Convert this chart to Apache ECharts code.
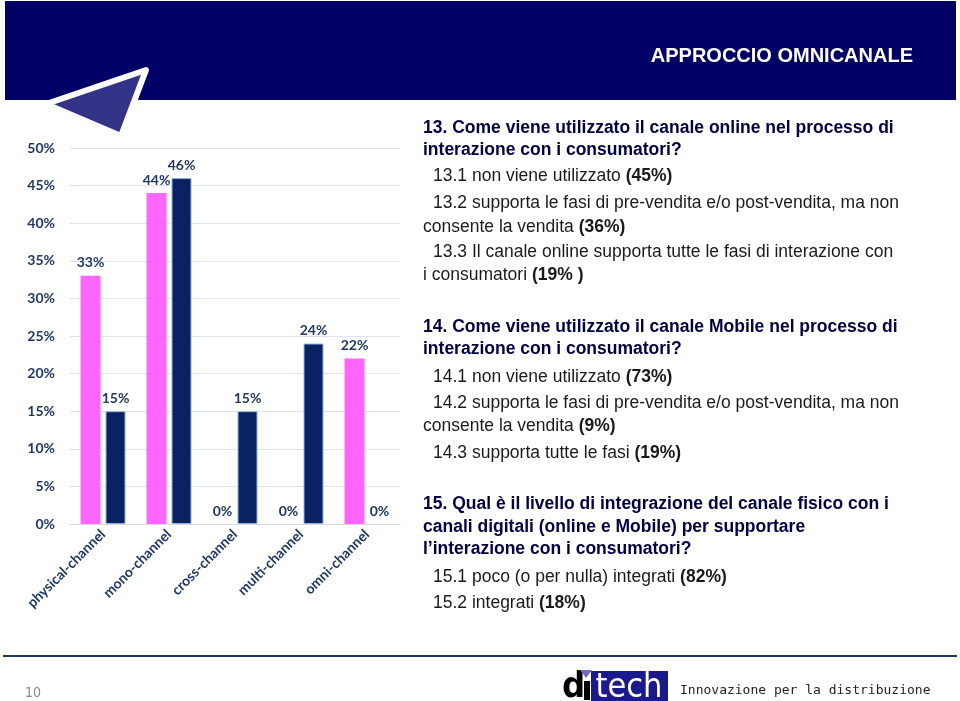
<!DOCTYPE html>
<html>
<head>
<meta charset="utf-8">
<script src="https://cdn.jsdelivr.net/npm/echarts@6/dist/echarts.min.js"></script>
<style>
  html, body { margin: 0; padding: 0; background: #fff; }
  #chart { width: 960px; height: 701px; }
</style>
</head>
<body>
<div id="chart"></div>
<script>
// dati del grafico
var categories = ['physical-channel', 'mono-channel', 'cross-channel', 'multi-channel', 'omni-channel'];
var pinkValues = [33, 44, 0, 0, 22];
var navyValues = [15, 46, 15, 24, 0];
var yTicks = [0, 5, 10, 15, 20, 25, 30, 35, 40, 45, 50];

// testo a destra: [y, rientro, testo, domanda?]
var textLines = [
  [128, 0, '13. Come viene utilizzato il canale online nel processo di', true],
  [150, 0, 'interazione con i consumatori?', true],
  [176, 10, '13.1 non viene utilizzato {b|(45%)}', false],
  [203, 10, '13.2 supporta le fasi di pre-vendita e/o post-vendita, ma non', false],
  [227, 0, 'consente la vendita {b|(36%)}', false],
  [252, 10, '13.3 Il canale online supporta tutte le fasi di interazione con', false],
  [275, 0, 'i consumatori {b|(19% )}', false],
  [327, 0, '14. Come viene utilizzato il canale Mobile nel processo di', true],
  [349, 0, 'interazione con i consumatori?', true],
  [377, 10, '14.1 non viene utilizzato {b|(73%)}', false],
  [403, 10, '14.2 supporta le fasi di pre-vendita e/o post-vendita, ma non', false],
  [426, 0, 'consente la vendita {b|(9%)}', false],
  [453, 10, '14.3 supporta tutte le fasi {b|(19%)}', false],
  [504, 0, '15. Qual è il livello di integrazione del canale fisico con i', true],
  [527, 0, 'canali digitali (online e Mobile) per supportare', true],
  [549, 0, 'l\u2019interazione con i consumatori?', true],
  [577, 10, '15.1 poco (o per nulla) integrati {b|(82%)}', false],
  [603, 10, '15.2 integrati {b|(18%)}', false]
];

var chart = echarts.init(document.getElementById('chart'));

var labelColor = '#1F3864';
var lbl = {
  show: true,
  position: 'top',
  distance: 6,
  color: labelColor,
  fontFamily: 'Lato',
  fontWeight: 'bold',
  fontSize: 14,
  formatter: '{c}%'
};

var graphics = [
  // banda del titolo
  { type: 'rect', shape: { x: 5, y: 1, width: 951, height: 99 }, style: { fill: '#000066' }, z: 1 },
  { type: 'text', x: 913, y: 56, style: { text: 'APPROCCIO OMNICANALE', fill: '#fff', font: 'bold 20px "Liberation Sans", Arial', textAlign: 'right', textVerticalAlign: 'middle' }, z: 2 },
  // freccia
  { type: 'polygon', shape: { points: [[46, 104], [146, 70], [121, 136]] }, style: { fill: '#333388', stroke: '#fff', lineWidth: 6, lineJoin: 'round' }, z: 3 },
  // linea in basso
  { type: 'line', shape: { x1: 3, y1: 656, x2: 957, y2: 656 }, style: { stroke: '#1F3864', lineWidth: 2 } },
  { type: 'text', x: 33, y: 693, style: { text: '10', fill: '#888', font: '14px "DejaVu Sans Condensed", sans-serif', textAlign: 'center', textVerticalAlign: 'middle' } },
  // logo
  { type: 'text', x: 562, y: 688, style: { text: 'd', fill: '#000', font: 'bold 36px "DejaVu Sans Condensed", sans-serif', textVerticalAlign: 'middle' } },
  { type: 'rect', shape: { x: 584, y: 681, width: 6, height: 19 }, style: { fill: '#000' } },
  { type: 'polygon', shape: { points: [[580, 670], [592, 670], [586, 678]] }, style: { fill: '#7766bb' } },
  { type: 'rect', shape: { x: 591, y: 671, width: 77, height: 30 }, style: { fill: '#1a1a8c' } },
  { type: 'text', x: 629, y: 688, style: { text: 'tech', fill: '#fff', font: '34px "DejaVu Sans Condensed", sans-serif', textAlign: 'center', textVerticalAlign: 'middle' } },
  { type: 'text', x: 680, y: 691, style: { text: 'Innovazione per la distribuzione', fill: '#222', font: '13px "DejaVu Sans Mono", monospace', textVerticalAlign: 'middle' } }
];

textLines.forEach(function (l) {
  graphics.push({
    type: 'text',
    x: 423 + l[1],
    y: l[0],
    style: {
      text: l[2],
      fill: l[3] ? '#000044' : '#1a1a1a',
      font: (l[3] ? 'bold ' : '') + '17.5px "Liberation Sans", Arial',
      textVerticalAlign: 'middle',
      rich: {
        b: { fontWeight: 'bold', fontSize: 17.5, fontFamily: 'Liberation Sans', fill: '#1a1a1a' }
      }
    }
  });
});

var option = {
  animation: false,
  grid: { left: 70, right: 560, top: 148, bottom: 177 },
  xAxis: {
    type: 'category',
    data: categories,
    axisLine: { lineStyle: { color: '#D9D9D9' } },
    axisTick: { show: false },
    axisLabel: {
      rotate: 45,
      interval: 0,
      margin: 8,
      color: labelColor,
      fontFamily: 'Lato',
      fontWeight: 'bold',
      fontSize: 14
    }
  },
  yAxis: {
    type: 'value',
    min: yTicks[0],
    max: yTicks[yTicks.length - 1],
    interval: 5,
    axisLabel: {
      formatter: '{value}%',
      color: labelColor,
      fontFamily: 'Lato',
      fontWeight: 'bold',
      fontSize: 14,
      margin: 15
    },
    splitLine: { lineStyle: { color: '#DCE3EE' } }
  },
  series: [
    {
      type: 'bar',
      data: pinkValues,
      barWidth: 20,
      barGap: '25%',
      itemStyle: { color: '#FF66FF' },
      label: lbl
    },
    {
      type: 'bar',
      data: navyValues.map(function (v) {
        return { value: v, itemStyle: { borderWidth: v === 0 ? 0 : 1 } };
      }),
      barWidth: 20,
      itemStyle: { color: '#0A2262', borderColor: '#8FB4E3', borderWidth: 1 },
      label: lbl
    }
  ],
  graphic: graphics
};

chart.setOption(option);
</script>
</body>
</html>
